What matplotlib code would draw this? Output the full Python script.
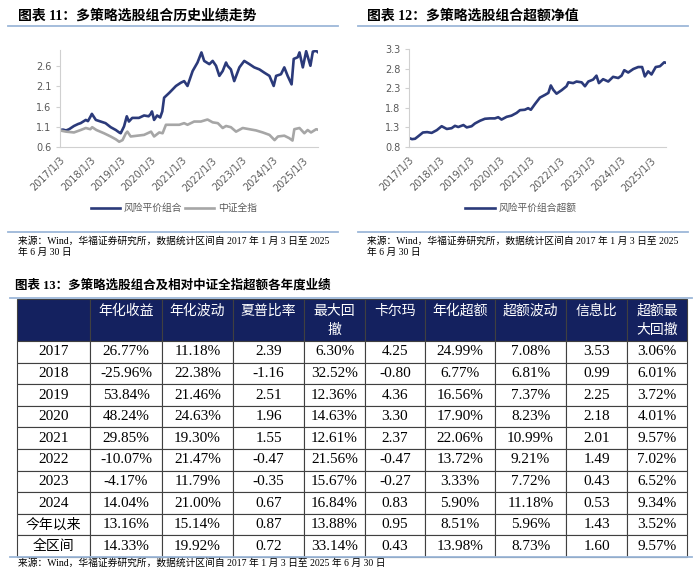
import matplotlib
matplotlib.use('Agg')
import matplotlib.pyplot as plt
from matplotlib.lines import Line2D

plt.rcParams['font.family'] = ['Liberation Serif', 'Noto Sans CJK SC', 'DejaVu Sans']

# ---- chart 11: portfolio vs CSI All Share (fractional years) ----
port_t = [2017.0, 2017.1, 2017.2, 2017.3, 2017.46, 2017.6, 2017.68, 2017.85, 2017.92, 2018.01, 2018.05,
          2018.18, 2018.34, 2018.5, 2018.67, 2018.84, 2018.95, 2019.0, 2019.11, 2019.2, 2019.27, 2019.38,
          2019.6, 2019.77, 2019.92, 2019.99, 2020.03, 2020.1, 2020.2, 2020.3, 2020.37, 2020.43, 2020.6,
          2020.82, 2020.98, 2021.09, 2021.2, 2021.37, 2021.53, 2021.66, 2021.75, 2021.92, 2022.03,
          2022.14, 2022.25, 2022.36, 2022.47, 2022.52, 2022.63, 2022.74, 2022.91, 2023.07, 2023.24,
          2023.4, 2023.57, 2023.73, 2023.9, 2024.04, 2024.12, 2024.28, 2024.39, 2024.5, 2024.63, 2024.7,
          2024.83, 2024.89, 2025.0, 2025.11, 2025.25, 2025.33, 2025.44, 2025.49]
port_v = [1.02, 1.03, 1.01, 1.04, 1.12, 1.17, 1.19, 1.27, 1.24, 1.36, 1.42,
          1.27, 1.23, 1.19, 1.09, 1.02, 0.96, 0.94, 1.11, 1.36, 1.23, 1.32,
          1.32, 1.38, 1.36, 1.42, 1.48, 1.27, 1.38, 1.33, 1.48, 1.82, 1.94,
          2.11, 2.19, 2.23, 2.11, 2.48, 2.69, 2.94, 2.73, 2.65, 2.73,
          2.61, 2.36, 2.48, 2.69, 2.61, 2.52, 2.23, 2.57, 2.73, 2.65,
          2.57, 2.52, 2.44, 2.36, 2.11, 2.36, 2.40, 2.57, 2.36, 2.15, 2.78,
          2.82, 2.94, 2.57, 2.97, 2.61, 2.96, 2.98, 2.95]

csi_t = [2017.0, 2017.2, 2017.46, 2017.68, 2017.85, 2018.0, 2018.06, 2018.2, 2018.45, 2018.67, 2018.84,
         2018.95, 2019.06, 2019.17, 2019.22, 2019.33, 2019.55, 2019.77, 2020.0, 2020.1, 2020.27, 2020.38,
         2020.49, 2020.71, 2020.93, 2021.09, 2021.2, 2021.42, 2021.64, 2021.86, 2022.03, 2022.2, 2022.36,
         2022.47, 2022.63, 2022.8, 2023.02, 2023.24, 2023.46, 2023.68, 2023.9, 2024.07, 2024.18, 2024.39,
         2024.55, 2024.66, 2024.72, 2024.89, 2025.05, 2025.16, 2025.27, 2025.44, 2025.49]
csi_v = [1.01, 0.98, 0.96, 1.02, 1.07, 1.04, 1.09, 1.02, 0.94, 0.86, 0.79,
         0.73, 0.77, 0.94, 0.98, 0.86, 0.88, 0.90, 0.98, 0.86, 0.96, 0.94,
         1.15, 1.15, 1.15, 1.19, 1.15, 1.23, 1.23, 1.28, 1.21, 1.19, 1.07,
         1.12, 1.09, 0.98, 1.07, 1.04, 1.01, 0.96, 0.90, 0.77, 0.86, 0.88,
         0.82, 0.76, 1.04, 1.07, 0.94, 1.02, 0.96, 1.04, 1.03]

# ---- chart 12: excess NAV ----
ex_t = [2017.0, 2017.1, 2017.2, 2017.3, 2017.46, 2017.6, 2017.75, 2017.92, 2018.08, 2018.25, 2018.41,
        2018.52, 2018.63, 2018.8, 2018.91, 2019.07, 2019.18, 2019.35, 2019.51, 2019.68, 2019.84, 2019.95,
        2020.06, 2020.23, 2020.39, 2020.56, 2020.67, 2020.83, 2020.94, 2021.03, 2021.17, 2021.33, 2021.5,
        2021.61, 2021.69, 2021.77, 2021.88, 2022.05, 2022.21, 2022.27, 2022.43, 2022.54, 2022.71, 2022.82,
        2022.93, 2023.09, 2023.2, 2023.28, 2023.42, 2023.59, 2023.75, 2023.92, 2024.03, 2024.12, 2024.25,
        2024.42, 2024.58, 2024.71, 2024.8, 2024.91, 2025.02, 2025.16, 2025.3, 2025.44, 2025.49]
ex_v = [1.03, 1.00, 1.01, 1.07, 1.17, 1.18, 1.16, 1.23, 1.33, 1.26, 1.28,
        1.34, 1.31, 1.36, 1.30, 1.33, 1.40, 1.47, 1.52, 1.53, 1.53, 1.56,
        1.50, 1.57, 1.60, 1.67, 1.74, 1.75, 1.79, 1.75, 1.90, 2.06, 2.13,
        2.18, 2.37, 2.26, 2.16, 2.25, 2.35, 2.45, 2.43, 2.47, 2.45, 2.35,
        2.47, 2.52, 2.62, 2.43, 2.53, 2.47, 2.59, 2.56, 2.62, 2.76, 2.70,
        2.79, 2.84, 2.84, 2.60, 2.73, 2.65, 2.84, 2.86, 2.96, 2.95]

years = list(range(2017, 2026))
year_labels = [f'{y}/1/3' for y in years]

# ---- table 13 ----
row_names = ['2017', '2018', '2019', '2020', '2021', '2022', '2023', '2024', '今年以来', '全区间']
col_names = ['', '年化收益\n ', '年化波动\n ', '夏普比率\n ', '最大回\n撤', '卡尔玛\n ',
             '年化超额\n ', '超额波动\n ', '信息比\n ', '超额最\n大回撤']
ann_ret = [26.77, -25.96, 53.84, 48.24, 29.85, -10.07, -4.17, 14.04, 13.16, 14.33]
ann_vol = [11.18, 22.38, 21.46, 24.63, 19.30, 21.47, 11.79, 21.00, 15.14, 19.92]
sharpe = [2.39, -1.16, 2.51, 1.96, 1.55, -0.47, -0.35, 0.67, 0.87, 0.72]
max_dd = [6.30, 32.52, 12.36, 14.63, 12.61, 21.56, 15.67, 16.84, 13.88, 33.14]
calmar = [4.25, -0.80, 4.36, 3.30, 2.37, -0.47, -0.27, 0.83, 0.95, 0.43]
ex_ret = [24.99, 6.77, 16.56, 17.90, 22.06, 13.72, 3.33, 5.90, 8.51, 13.98]
ex_vol = [7.08, 6.81, 7.37, 8.23, 10.99, 9.21, 7.72, 11.18, 5.96, 8.73]
info_ratio = [3.53, 0.99, 2.25, 2.18, 2.01, 1.49, 0.43, 0.53, 1.43, 1.60]
ex_max_dd = [3.06, 6.01, 3.72, 4.01, 9.57, 7.02, 6.52, 9.34, 3.52, 9.57]

W, H = 700, 581
NAVY = '#2B3A7A'
GREY = '#A6A6A6'
RULE = '#9DB8D9'
TXT = '#595959'


def fx(px):
    return px / W


def fy(py):
    return 1 - py / H


fig = plt.figure(figsize=(7, 5.81), dpi=100)
fig.patch.set_facecolor('white')


def rule(x0, x1, y, color=RULE, lw=1.3):
    fig.add_artist(Line2D([fx(x0), fx(x1)], [fy(y), fy(y)], color=color, lw=lw,
                          transform=fig.transFigure))


def style_axes(ax, ylim, yticks):
    ax.set_xlim(2017, 2025.5)
    ax.set_ylim(*ylim)
    ax.set_yticks(yticks)
    ax.set_yticklabels([f'{v:.1f}' for v in yticks], family='DejaVu Sans')
    ax.set_xticks(years)
    ax.set_xticklabels(year_labels, rotation=45, ha='right', rotation_mode='anchor',
                       family='DejaVu Sans')
    for s in ['top', 'right']:
        ax.spines[s].set_visible(False)
    for s in ['left', 'bottom']:
        ax.spines[s].set_color('#D0D0D0')
        ax.spines[s].set_linewidth(0.8)
    ax.tick_params(axis='y', length=3, color='#D0D0D0', labelsize=7, labelcolor=TXT, pad=3)
    ax.tick_params(axis='x', length=0, labelsize=7, labelcolor=TXT, pad=6)


src1 = '来源：Wind，华福证券研究所，数据统计区间自 2017 年 1 月 3 日至 2025'
src2 = '年 6 月 30 日'

# chart 11
fig.text(fx(18), fy(16), '图表 11：多策略选股组合历史业绩走势', fontsize=10, fontweight='bold',
         va='center', ha='left')
rule(8, 338, 26)
ax1 = fig.add_axes([fx(60), fy(147), fx(258), 97 / H])
ax1.plot(port_t, port_v, color=NAVY, lw=1.9, label='风险平价组合')
ax1.plot(csi_t, csi_v, color=GREY, lw=1.9, label='中证全指')
style_axes(ax1, (0.6, 3.0), [0.6, 1.1, 1.6, 2.1, 2.6])
ax1.legend(loc='center', bbox_to_anchor=(fx(174), fy(208)), bbox_transform=fig.transFigure,
           ncol=2, frameon=False, labelcolor=TXT, handlelength=3.0,
           handletextpad=0.4, columnspacing=0.3, prop={'family': 'Noto Sans CJK SC', 'size': 7})
rule(8, 338, 232)
fig.text(fx(18), fy(241), src1, fontsize=7, va='center', ha='left')
fig.text(fx(18), fy(252), src2, fontsize=7, va='center', ha='left')

# chart 12
fig.text(fx(367), fy(16), '图表 12：多策略选股组合超额净值', fontsize=10, fontweight='bold',
         va='center', ha='left')
rule(358, 688, 26)
ax2 = fig.add_axes([fx(409), fy(147), fx(257), 98 / H])
ax2.plot(ex_t, ex_v, color=NAVY, lw=1.9, label='风险平价组合超额')
style_axes(ax2, (0.8, 3.3), [0.8, 1.3, 1.8, 2.3, 2.8, 3.3])
ax2.legend(loc='center', bbox_to_anchor=(fx(521), fy(208)), bbox_transform=fig.transFigure,
           frameon=False, labelcolor=TXT, handlelength=3.0, handletextpad=0.4,
           prop={'family': 'Noto Sans CJK SC', 'size': 7})
rule(358, 688, 232)
fig.text(fx(367), fy(241), src1, fontsize=7, va='center', ha='left')
fig.text(fx(367), fy(252), src2, fontsize=7, va='center', ha='left')

# table 13
fig.text(fx(15), fy(285), '图表 13：多策略选股组合及相对中证全指超额各年度业绩', fontsize=9,
         fontweight='bold', va='center', ha='left')
rule(10, 692, 298)

pct = lambda v: f'{v:.2f}%'
num = lambda v: f'{v:.2f}'
cell_text = []
for i, name in enumerate(row_names):
    cell_text.append([name, pct(ann_ret[i]), pct(ann_vol[i]), num(sharpe[i]), pct(max_dd[i]),
                      num(calmar[i]), pct(ex_ret[i]), pct(ex_vol[i]), num(info_ratio[i]),
                      pct(ex_max_dd[i])])

col_px = [73, 72, 71, 71, 61, 60, 70, 71, 61, 60]
tax = fig.add_axes([fx(17), fy(557), fx(670), 258 / H])
tax.axis('off')
tbl = tax.table(cellText=cell_text, colLabels=col_names, colWidths=[c / 670 for c in col_px],
                cellLoc='center', bbox=[0, 0, 1, 1])
tbl.auto_set_font_size(False)
for (r, c), cell in tbl.get_celld().items():
    cell.set_edgecolor('#404040')
    cell.set_linewidth(0.8)
    t = cell.get_text()
    if r == 0:
        cell.set_facecolor('#14215F')
        cell.set_height(cell.get_height() * 1.95)
        t.set_color('white')
        t.set_fontsize(10)
        t.set_family('Noto Sans CJK SC')
        t.set_linespacing(1.45)
    else:
        cell.set_facecolor('white')
        t.set_color('black')
        if c == 0 and r >= 9:
            t.set_fontsize(10)
        else:
            t.set_fontsize(11)
rule(10, 692, 557)
fig.text(fx(18), fy(563), src1 + ' ' + src2, fontsize=7, va='center', ha='left')

fig.savefig('out.png', dpi=100, facecolor='white')
